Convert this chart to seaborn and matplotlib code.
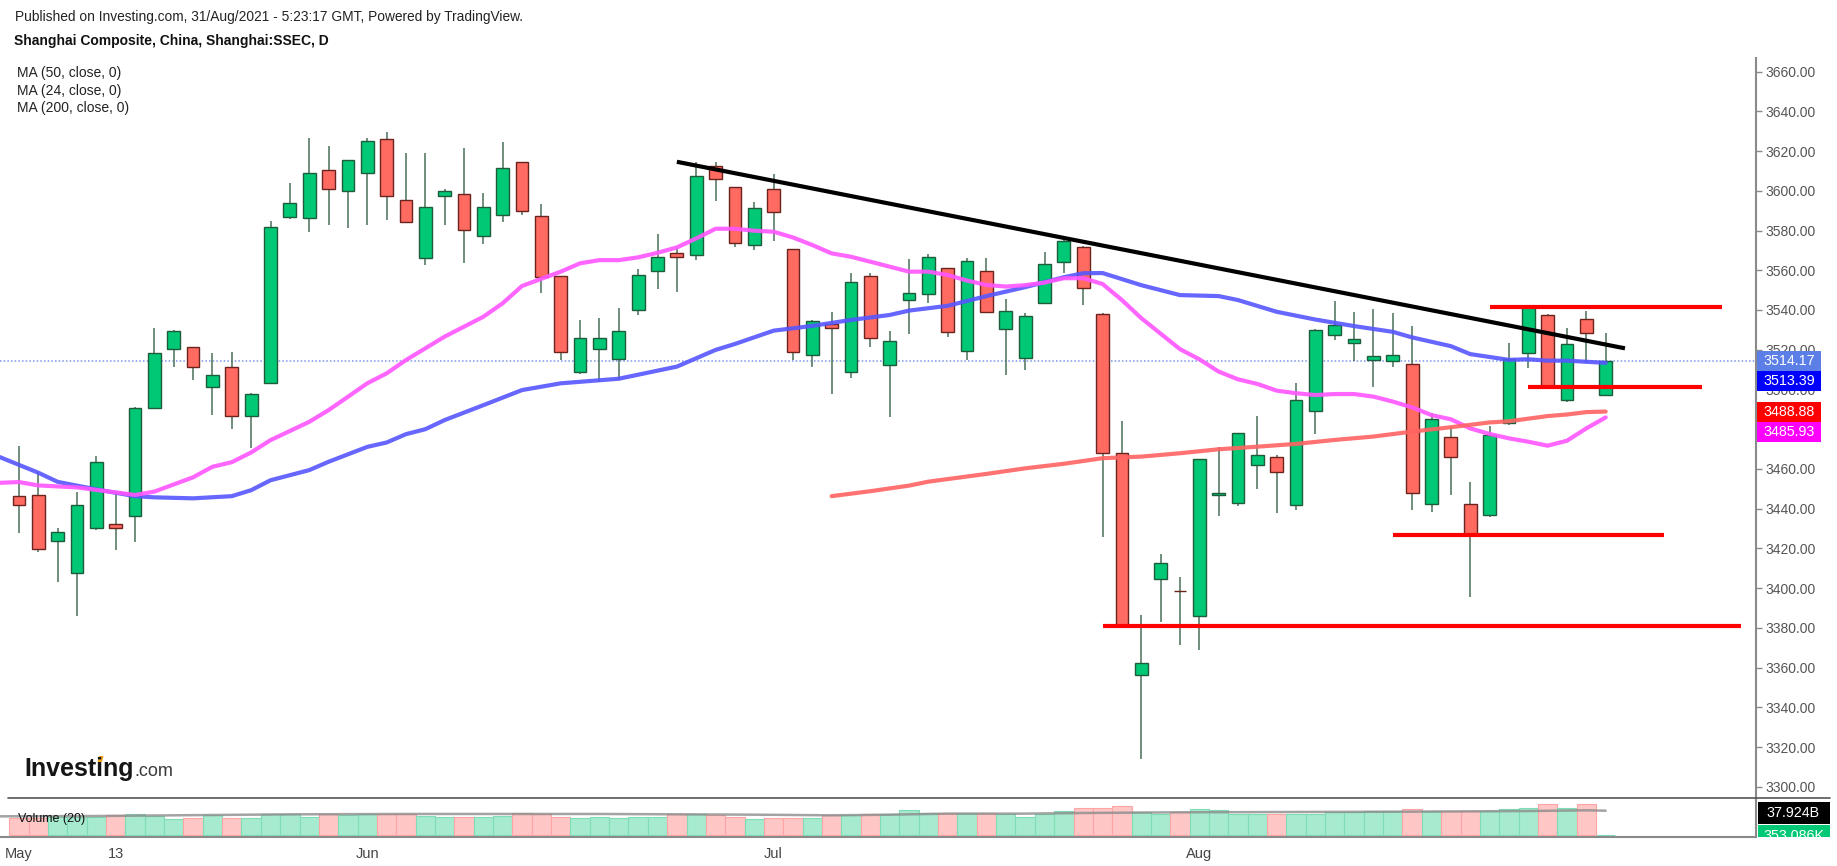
import matplotlib
matplotlib.use("Agg")
import matplotlib.pyplot as plt
import matplotlib.transforms as mtransforms
from matplotlib.patches import Rectangle, Polygon
from matplotlib.lines import Line2D
import seaborn as sns

# --- Canvas ---
W, H = 1837, 866

# --- Data ---
# daily candles, 6 May .. 31 Aug 2021 (index 0 .. 82)
opens = [3446.4, 3447.0, 3423.7, 3407.5, 3430.1, 3432.4, 3436.3, 3490.5, 3520.5, 3521.2,
         3501.1, 3511.2, 3486.6, 3503.1, 3586.7, 3586.2, 3610.6, 3599.9, 3608.8, 3626.3,
         3595.5, 3566.0, 3597.3, 3598.5, 3577.2, 3587.8, 3614.3, 3587.3, 3557.0, 3508.6,
         3520.5, 3515.5, 3540.0, 3559.5, 3568.5, 3567.7, 3612.5, 3601.8, 3572.8, 3600.7,
         3570.5, 3517.3, 3533.2, 3508.6, 3557.1, 3512.3, 3545.0, 3547.9, 3561.0, 3519.4,
         3559.7, 3530.6, 3515.7, 3543.3, 3564.0, 3571.6, 3538.0, 3467.9, 3356.3, 3404.4,
         3398.8, 3386.0, 3446.8, 3442.7, 3462.0, 3465.9, 3441.8, 3489.3, 3527.5, 3523.2,
         3514.8, 3514.2, 3512.7, 3442.4, 3475.9, 3442.4, 3436.8, 3483.0, 3518.2, 3537.7,
         3494.7, 3535.3, 3497.2]
highs = [3471.7, 3458.3, 3430.1, 3448.2, 3466.7, 3448.2, 3491.4, 3530.8, 3529.9, 3521.5,
         3518.2, 3519.0, 3498.4, 3585.0, 3604.1, 3626.4, 3622.7, 3615.7, 3626.4, 3629.7,
         3618.9, 3618.9, 3600.7, 3621.4, 3598.7, 3624.7, 3614.6, 3593.3, 3557.3, 3534.9,
         3535.9, 3540.9, 3560.5, 3578.3, 3571.4, 3614.6, 3614.6, 3602.0, 3594.6, 3608.4,
         3570.7, 3534.8, 3539.1, 3558.4, 3558.7, 3529.5, 3565.5, 3568.0, 3561.2, 3566.0,
         3566.0, 3545.4, 3538.7, 3569.2, 3576.9, 3572.2, 3538.3, 3484.3, 3386.5, 3417.0,
         3405.8, 3464.8, 3471.2, 3477.9, 3486.8, 3467.0, 3503.1, 3530.2, 3544.5, 3539.1,
         3540.3, 3538.6, 3532.1, 3488.0, 3481.0, 3453.3, 3481.5, 3523.2, 3541.3, 3537.9,
         3530.7, 3539.7, 3528.3]
lows = [3428.0, 3418.0, 3403.0, 3386.0, 3429.3, 3419.2, 3423.4, 3490.0, 3511.5, 3504.8,
        3487.1, 3480.3, 3470.7, 3503.0, 3585.8, 3579.4, 3582.8, 3581.4, 3582.6, 3585.3,
        3584.0, 3562.7, 3582.6, 3563.8, 3573.2, 3584.5, 3587.8, 3548.4, 3514.8, 3507.8,
        3503.9, 3504.7, 3537.5, 3550.6, 3549.2, 3565.1, 3594.9, 3571.6, 3570.3, 3574.9,
        3514.8, 3511.1, 3497.7, 3505.6, 3521.5, 3486.0, 3527.9, 3543.7, 3526.2, 3514.8,
        3538.7, 3507.3, 3509.7, 3543.0, 3558.7, 3542.5, 3425.6, 3381.0, 3314.2, 3383.1,
        3371.4, 3368.9, 3436.3, 3441.5, 3449.7, 3438.0, 3439.3, 3477.6, 3525.0, 3514.2,
        3501.4, 3511.4, 3439.3, 3438.5, 3446.8, 3395.7, 3436.0, 3482.2, 3511.0, 3500.0,
        3493.8, 3513.5, 3497.0]
closes = [3441.8, 3419.5, 3428.1, 3441.8, 3463.3, 3430.1, 3490.5, 3518.2, 3529.4, 3511.2,
          3507.4, 3486.6, 3497.6, 3581.6, 3593.7, 3608.8, 3601.1, 3615.7, 3625.1, 3597.2,
          3584.1, 3591.7, 3600.0, 3580.4, 3591.7, 3611.3, 3589.8, 3556.8, 3518.7, 3525.7,
          3525.7, 3529.4, 3557.8, 3566.5, 3566.5, 3607.4, 3606.1, 3573.6, 3591.2, 3589.3,
          3518.7, 3534.6, 3530.7, 3553.9, 3525.7, 3524.4, 3548.4, 3566.8, 3528.8, 3564.7,
          3539.2, 3539.6, 3537.0, 3563.0, 3574.7, 3550.9, 3467.9, 3381.4, 3362.2, 3412.5,
          3398.4, 3464.8, 3448.0, 3477.9, 3467.2, 3458.3, 3494.7, 3529.9, 3532.5, 3525.2,
          3516.8, 3517.6, 3447.7, 3485.3, 3465.9, 3427.4, 3477.2, 3515.2, 3541.3, 3501.7,
          3522.7, 3528.3, 3514.17]
# volume in billions
volumes = [27.0, 27.0, 28.6, 28.6, 28.6, 31.2, 32.8, 30.2, 24.4, 26.0,
           30.7, 26.0, 26.0, 32.8, 32.8, 28.6, 32.8, 31.7, 32.8, 32.8,
           32.8, 30.2, 28.6, 28.6, 28.6, 30.2, 34.8, 32.8, 28.6, 26.0,
           27.6, 26.0, 28.1, 28.1, 32.8, 32.8, 31.2, 28.6, 24.4, 26.0,
           26.0, 26.0, 30.7, 30.7, 32.8, 32.2, 39.0, 34.8, 34.8, 34.8,
           34.8, 32.8, 28.6, 32.8, 36.9, 42.6, 42.6, 45.2, 36.4, 33.3,
           36.4, 40.6, 39.0, 33.3, 33.3, 33.3, 32.8, 32.8, 36.4, 36.4,
           38.0, 38.0, 40.6, 36.9, 36.9, 36.9, 36.9, 40.6, 42.6, 48.4,
           42.6, 48.4, 0.000353]
vol_ma_idx = [-1, 4, 8, 14, 20, 30, 38, 42, 45, 48, 52, 55, 60, 66, 72, 78, 81, 82]
vol_ma_val = [29.1, 29.6, 30.7, 32.2, 32.8, 32.8, 31.7, 30.7, 31.7, 33.3,
              33.3, 34.3, 35.4, 35.9, 36.4, 37.4, 38.5, 37.924]

ma50_idx = [-1, 1, 2, 4, 6, 7, 9, 11, 12, 13, 15, 16, 18, 19, 20, 21, 22, 24, 26, 28,
            31, 34, 36, 37, 39, 41, 43, 45, 46, 48, 50, 52, 54, 55, 56, 58, 60, 62, 63,
            65, 67, 69, 71, 72, 74, 75, 77, 78, 79, 80, 82]
ma50_val = [3466.0, 3458.1, 3453.5, 3449.7, 3446.3, 3445.7, 3445.2, 3446.3, 3449.3, 3454.3,
            3459.4, 3463.6, 3471.1, 3473.3, 3477.5, 3480.0, 3484.6, 3492.1, 3499.7, 3503.1,
            3505.4, 3511.5, 3519.9, 3522.9, 3529.6, 3532.0, 3535.0, 3537.5, 3539.7, 3542.1,
            3547.0, 3551.5, 3556.5, 3558.5, 3558.6, 3552.5, 3547.5, 3547.0, 3545.0, 3539.1,
            3535.2, 3531.9, 3529.0, 3526.2, 3521.8, 3517.8, 3514.9, 3515.2, 3514.5, 3514.5,
            3513.39]
ma24_idx = [-1, 0, 1, 3, 5, 6, 7, 8, 9, 10, 11, 12, 13, 15, 16, 17, 18, 19, 20, 21,
            22, 24, 25, 26, 28, 29, 30, 31, 32, 33, 34, 35, 36, 37, 38, 39, 40, 41, 42,
            43, 44, 45, 46, 47, 48, 49, 50, 51, 52, 53, 54, 55, 56, 57, 58, 60, 61, 62,
            63, 64, 65, 66, 67, 68, 69, 70, 71, 72, 73, 74, 75, 76, 77, 78, 79, 80, 81, 82]
ma24_val = [3453.0, 3453.4, 3451.7, 3450.7, 3448.2, 3446.9, 3448.6, 3452.2, 3455.8, 3461.1,
            3463.4, 3468.3, 3474.5, 3483.7, 3489.6, 3496.3, 3503.1, 3508.1, 3514.8, 3520.7,
            3526.6, 3536.6, 3543.4, 3552.1, 3559.3, 3563.5, 3565.1, 3565.1, 3566.5, 3568.8,
            3571.5, 3576.0, 3580.9, 3580.9, 3579.9, 3579.4, 3576.5, 3572.7, 3568.5, 3566.8,
            3564.3, 3561.8, 3559.3, 3559.3, 3557.6, 3554.8, 3552.6, 3551.8, 3552.5, 3553.8,
            3556.0, 3556.0, 3553.1, 3545.0, 3535.9, 3520.3, 3515.2, 3509.0, 3505.1, 3502.8,
            3499.4, 3498.1, 3497.2, 3497.7, 3497.7, 3496.4, 3493.9, 3491.0, 3487.1, 3485.0,
            3480.4, 3477.6, 3475.4, 3473.7, 3471.7, 3474.2, 3480.4, 3485.93]
ma200_idx = [42, 44, 46, 47, 50, 52, 54, 56, 58, 60, 62, 64, 66, 68, 70, 72, 74, 76, 77,
             79, 80, 81, 82]
ma200_val = [3446.3, 3448.8, 3451.6, 3453.6, 3457.5, 3460.3, 3462.6, 3465.4, 3466.2, 3467.9,
             3469.9, 3471.2, 3472.6, 3474.6, 3476.3, 3478.8, 3481.0, 3483.4, 3484.0, 3486.6,
             3487.4, 3488.6, 3488.88]

# drawn trend line and support / resistance levels
trend_x = [34, 83]
trend_y = [3614.6, 3520.7]
level_start = [76, 78, 71, 56]
level_end = [88, 87, 85, 89]
level_price = [3541.5, 3501.0, 3426.7, 3380.8]

last_price = 3514.17
tag_values = [3514.17, 3513.39, 3488.88, 3485.93]
tag_colors = ["#5b7fe6", "#0000ff", "#ff0000", "#ff00ff"]

tick_idx = [0, 5, 10, 18, 23, 28, 33, 39, 44, 49, 54, 61, 66, 71, 76, 81, 86]
tick_text = {0: "May", 5: "13", 18: "Jun", 39: "Jul", 61: "Aug"}
price_ticks = list(range(3300, 3661, 20))

# --- Style ---
UP = "#00c875"
DOWN = "#ff6a61"
UP_EDGE = "#1e5c3c"
DOWN_EDGE = "#6b231e"
WICK = "#4a7059"

sns.set_style("white")
plt.rcParams["font.family"] = ["Liberation Sans", "DejaVu Sans"]


def fx(px):
    return px / W


def fy(py):
    return 1 - py / H


fig = plt.figure(figsize=(W / 100, H / 100), dpi=100)
ax = fig.add_axes([0, fy(798), fx(1756), (798 - 58) / H])
axv = fig.add_axes([0, fy(837), fx(1756), (837 - 798) / H], sharex=ax)

idx = list(range(len(closes)))
x_lo, x_hi = -0.98, 89.77

# --- candles ---
is_up = [c >= o for o, c in zip(opens, closes)]
ax.vlines(idx, lows, highs, color=WICK, lw=1.1, zorder=3)
bodies_bottom = [min(o, c) for o, c in zip(opens, closes)]
bodies_height = [max(abs(c - o), 0.4) for o, c in zip(opens, closes)]
ax.bar(idx, bodies_height, bottom=bodies_bottom, width=0.66,
       color=[UP if u else DOWN for u in is_up],
       edgecolor=[UP_EDGE if u else DOWN_EDGE for u in is_up], linewidth=1.0, zorder=4)

# --- moving averages ---
sns.lineplot(x=ma50_idx, y=ma50_val, ax=ax, color="#5656ff", lw=3.0, alpha=0.9, zorder=5)
sns.lineplot(x=ma24_idx, y=ma24_val, ax=ax, color="#ff55ff", lw=3.0, alpha=0.9, zorder=5)
sns.lineplot(x=ma200_idx, y=ma200_val, ax=ax, color="#ff6363", lw=3.0, alpha=0.9, zorder=5)

# current price line
ax.axhline(last_price, color="#7b95e8", lw=1.1, ls=(0, (1, 1.4)), zorder=1)

# --- drawings ---
ax.plot(trend_x, trend_y, color="black", lw=3.0, solid_capstyle="butt", zorder=6)
for x0, x1, p in zip(level_start, level_end, level_price):
    ax.plot([x0, x1], [p, p], color="#ff0000", lw=3.0, solid_capstyle="butt", zorder=6)

ax.set_xlim(x_lo, x_hi)
ax.set_ylim(3294.37, 3666.84)
for s in ["left", "top", "bottom"]:
    ax.spines[s].set_visible(False)
ax.spines["right"].set_color("#8a8a8a")
ax.spines["right"].set_linewidth(1.5)
ax.yaxis.tick_right()
ax.set_yticks(price_ticks)
ax.set_yticklabels([f"{p:.2f}" for p in price_ticks])
ax.tick_params(axis="y", direction="out", length=4, width=1, color="#8a8a8a",
               labelsize=10, labelcolor="#555555", pad=3)
ax.tick_params(axis="x", bottom=False, labelbottom=False)
ax.set_xlabel("")
ax.set_ylabel("")

# price tags on the right scale (stacked like TradingView)
trans = mtransforms.blended_transform_factory(ax.transAxes, ax.transData)
tag_h = 20 / 1.9867
tag_w = 64 / 1756
prev = None
for val, col in zip(tag_values, tag_colors):
    center = val if prev is None else min(val, prev - tag_h)
    prev = center
    ax.add_patch(Rectangle((1.0006, center - tag_h / 2), tag_w, tag_h, transform=trans,
                           facecolor=col, edgecolor="none", clip_on=False, zorder=10))
    ax.text(1.0006 + tag_w / 2, center, f"{val:.2f}", transform=trans, ha="center",
            va="center", color="white", fontsize=10.3, clip_on=False, zorder=11)

# --- volume panel ---
vol_fill = ["#a6ebcf" if u else "#ffc6c6" for u in is_up]
vol_edge = ["#7fdcb5" if u else "#ffa4a4" for u in is_up]
axv.bar(idx, volumes, width=1.0, color=vol_fill, edgecolor=vol_edge, linewidth=0.8, zorder=2)
sns.lineplot(x=vol_ma_idx, y=vol_ma_val, ax=axv, color="#8c8c8c", lw=1.8, alpha=0.8, zorder=3)
axv.set_ylim(-3.12, 57.7)
axv.set_xlim(x_lo, x_hi)
axv.set_yticks([])
axv.set_ylabel("")
axv.set_xlabel("")
for s in ["left", "top"]:
    axv.spines[s].set_visible(False)
for s in ["right", "bottom"]:
    axv.spines[s].set_color("#8a8a8a")
    axv.spines[s].set_linewidth(1.5)
axv.set_xticks(tick_idx)
axv.set_xticklabels([tick_text.get(t, "") for t in tick_idx])
axv.tick_params(axis="x", direction="out", length=4, width=1, color="#555555",
                labelsize=10.5, labelcolor="#444444", pad=3)
axv.text(18 / 1756, 0.45, "Volume (20)", transform=axv.transAxes, fontsize=9,
         color="#111111", va="center", ha="left", zorder=5)

# volume tags in the right strip
axl = fig.add_axes([fx(1756), fy(837), fx(W - 1756), (837 - 798) / H])
axl.set_xlim(0, W - 1756)
axl.set_ylim(837, 798)
axl.axis("off")
axl.add_patch(Rectangle((1.5, 801.7), 72, 22.3, facecolor="black", edgecolor="none"))
axl.text(37.5, 812.8, "37.924B", color="white", fontsize=10.3, ha="center", va="center")
axl.add_patch(Rectangle((1.5, 824.5), 72, 22, facecolor=UP, edgecolor="none"))
axl.text(37.5, 836.0, "353.086K", color="white", fontsize=10.3, ha="center", va="center",
         clip_on=True)

# separator between price and volume panes
fig.add_artist(Line2D([fx(8), fx(1830)], [fy(798), fy(798)], color="#555555", lw=1.2))

# --- header texts ---
fig.text(fx(15), fy(17), "Published on Investing.com, 31/Aug/2021 - 5:23:17 GMT, Powered by TradingView.",
         fontsize=9.9, color="#222222", va="center", ha="left")
fig.text(fx(14), fy(41), "Shanghai Composite, China, Shanghai:SSEC, D",
         fontsize=10, fontweight="bold", color="#111111", va="center", ha="left")
for k, label in enumerate(["MA (50, close, 0)", "MA (24, close, 0)", "MA (200, close, 0)"]):
    fig.text(fx(17), fy(73 + 17.5 * k), label, fontsize=10, color="#222222",
             va="center", ha="left")

# Investing.com logo
logo = fig.text(fx(24), fy(776), "Investing", fontsize=18, fontweight="bold",
                color="#151515", va="baseline", ha="left")
fig.canvas.draw()
bb = logo.get_window_extent()
fig.text(bb.x1 / W + fx(0.5), fy(776), ".com", fontsize=13, color="#3a3a3a",
         va="baseline", ha="left")
# orange accent on the dot of the second "i"
dot_x = bb.x0 + 0.69 * bb.width
fig.add_artist(Polygon([[fx(dot_x - 2), fy(762)], [fx(dot_x + 2.5), fy(762)],
                        [fx(dot_x + 4), fy(756)], [fx(dot_x - 0.5), fy(756)]],
                       closed=True, facecolor="#f5a623", edgecolor="none"))

fig.savefig("out.png", dpi=100)
